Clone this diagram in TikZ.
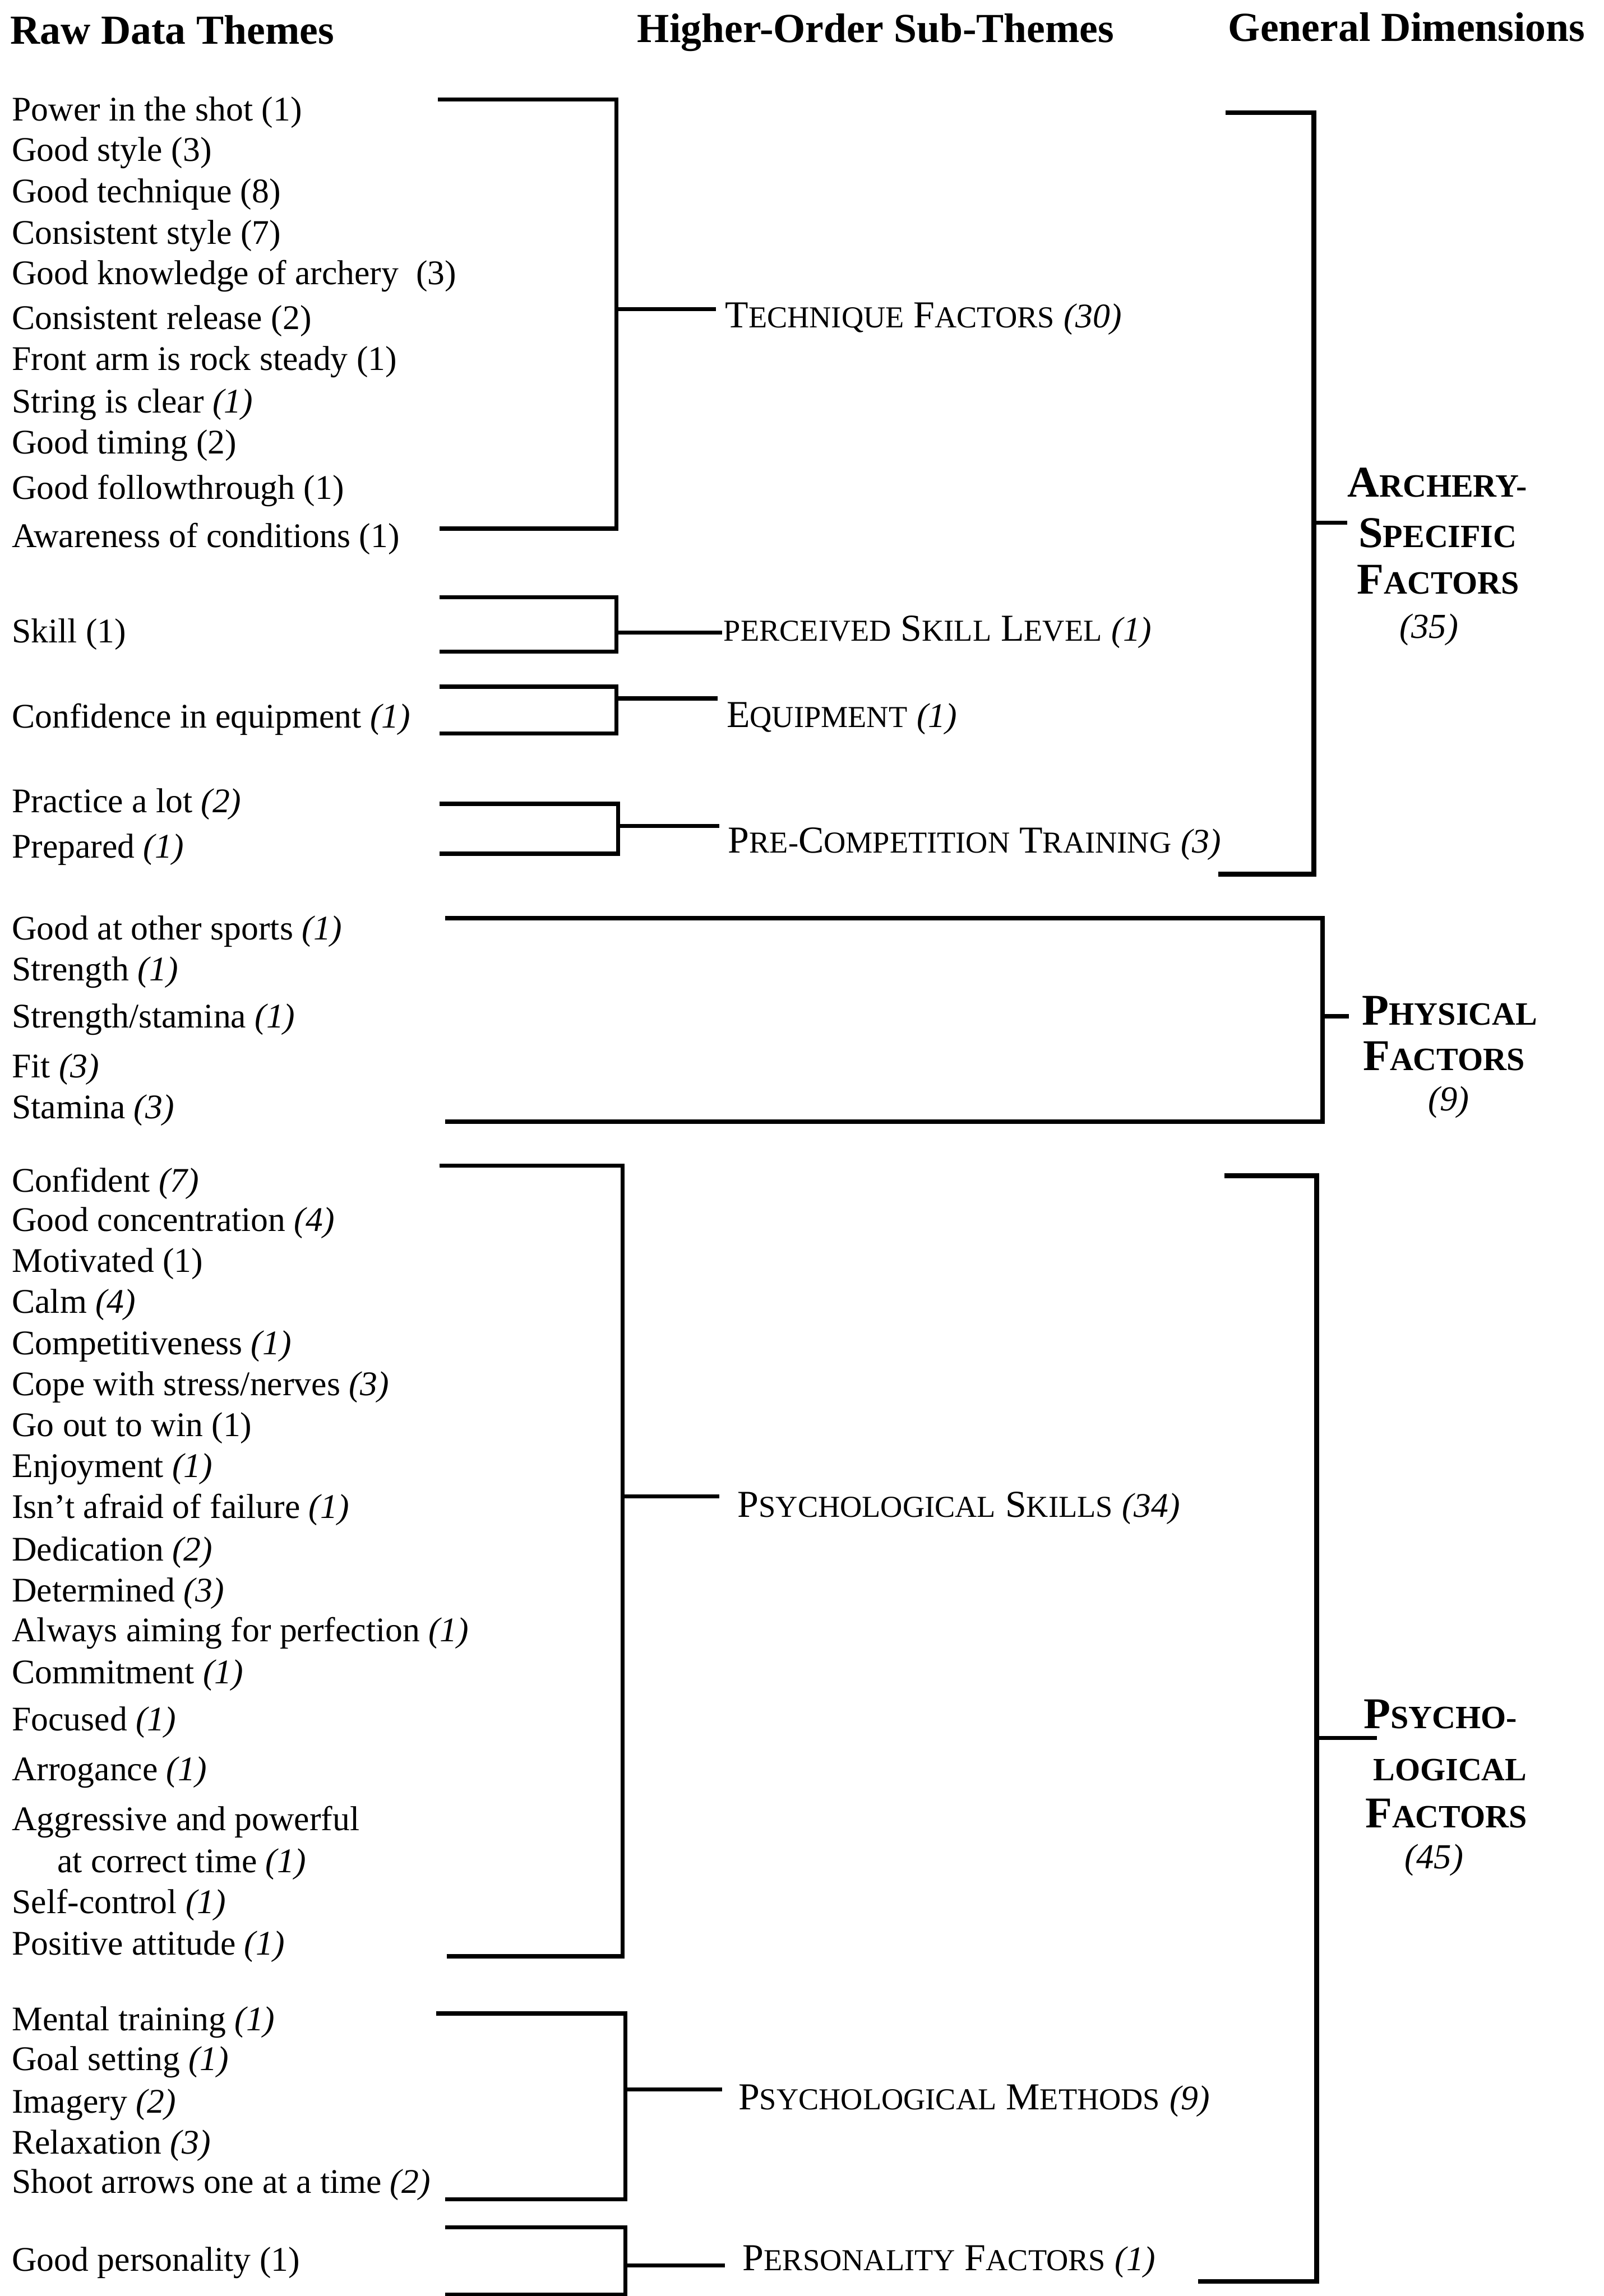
\documentclass[tikz,border=0pt]{standalone}
\usepackage{fontspec}
\setmainfont{Liberation Serif}
\newcommand\scA[1]{{\fontsize{20.8}{24}\selectfont #1}}
\newcommand\scB[1]{{\fontsize{22.2}{24}\selectfont #1}}
\newcommand\nA[1]{{\fontsize{23.6}{28}\selectfont\itshape #1}}
\newcommand\ri[1]{\textit{#1}}
\begin{document}
\begin{tikzpicture}[x=1pt,y=-1pt,
  raw/.style={anchor=west,inner sep=0pt,text height=16.5pt,text depth=4.7pt,font=\fontsize{23.6}{28}\selectfont},
  head/.style={anchor=base west,inner sep=0pt,font=\bfseries\fontsize{28.2}{32}\selectfont},
  sub/.style={anchor=west,inner sep=0pt,text height=17.2pt,text depth=0pt,font=\fontsize{26}{30}\selectfont},
  dim/.style={anchor=west,inner sep=0pt,text height=20pt,text depth=0pt,font=\bfseries\fontsize{30}{33}\selectfont},
  dimnum/.style={anchor=west,inner sep=0pt,text height=16.8pt,text depth=4.8pt,font=\itshape\fontsize{24}{28}\selectfont},
  brk/.style={line width=2.8pt},
  bigbrk/.style={line width=3.3pt}]
\fill[white] (0,0) rectangle (1095,1568);
\useasboundingbox (0,0) rectangle (1095,1568);

% headers
\node[head] (h1) at (7,30) {Raw Data Themes};
\node[head] (h2) at (435,29) {Higher-Order Sub-Themes};
\node[head] (h3) at (838.5,28) {General Dimensions};

% raw data themes
\node[raw] (r1) at (8,76.5) {Power in the shot (1)};
\node[raw] (r2) at (8,104) {Good style (3)};
\node[raw] (r3) at (8,132.5) {Good technique (8)};
\node[raw] (r4) at (8,161) {Consistent style (7)};
\node[raw] (r5) at (8,188.5) {Good knowledge of archery~~(3)};
\node[raw] (r6) at (8,219) {Consistent release (2)};
\node[raw] (r7) at (8,247) {Front arm is rock steady (1)};
\node[raw] (r8) at (8,276) {String is clear \ri{(1)}};
\node[raw] (r9) at (8,304) {Good timing (2)};
\node[raw] (r10) at (8,335) {Good followthrough (1)};
\node[raw] (r11) at (8,368) {Awareness of conditions (1)};
\node[raw] (r12) at (8,433) {Skill (1)};
\node[raw] (r13) at (8,491) {Confidence in equipment \ri{(1)}};
\node[raw] (r14) at (8,549) {Practice a lot \ri{(2)}};
\node[raw] (r15) at (8,580) {Prepared \ri{(1)}};
\node[raw] (r16) at (8,636) {Good at other sports \ri{(1)}};
\node[raw] (r17) at (8,664) {Strength \ri{(1)}};
\node[raw] (r18) at (8,696) {Strength/stamina \ri{(1)}};
\node[raw] (r19) at (8,730) {Fit \ri{(3)}};
\node[raw] (r20) at (8,758) {Stamina \ri{(3)}};
\node[raw] (r21) at (8,808) {Confident \ri{(7)}};
\node[raw] (r22) at (8,835) {Good concentration \ri{(4)}};
\node[raw] (r23) at (8,863) {Motivated (1)};
\node[raw] (r24) at (8,891) {Calm \ri{(4)}};
\node[raw] (r25) at (8,919) {Competitiveness \ri{(1)}};
\node[raw] (r26) at (8,947) {Cope with stress/nerves \ri{(3)}};
\node[raw] (r27) at (8,975) {Go out to win (1)};
\node[raw] (r28) at (8,1003) {Enjoyment \ri{(1)}};
\node[raw] (r29) at (8,1031) {Isn’t afraid of failure \ri{(1)}};
\node[raw] (r30) at (8,1060) {Dedication \ri{(2)}};
\node[raw] (r31) at (8,1088) {Determined \ri{(3)}};
\node[raw] (r32) at (8,1115) {Always aiming for perfection \ri{(1)}};
\node[raw] (r33) at (8,1144) {Commitment \ri{(1)}};
\node[raw] (r34) at (8,1176) {Focused \ri{(1)}};
\node[raw] (r35) at (8,1210) {Arrogance \ri{(1)}};
\node[raw] (r36) at (8,1244) {Aggressive and powerful};
\node[raw] (r37) at (39,1273) {at correct time \ri{(1)}};
\node[raw] (r38) at (8,1301) {Self-control \ri{(1)}};
\node[raw] (r39) at (8,1329) {Positive attitude \ri{(1)}};
\node[raw] (r40) at (8,1381) {Mental training \ri{(1)}};
\node[raw] (r41) at (8,1408) {Goal setting \ri{(1)}};
\node[raw] (r42) at (8,1437) {Imagery \ri{(2)}};
\node[raw] (r43) at (8,1465) {Relaxation \ri{(3)}};
\node[raw] (r44) at (8,1492) {Shoot arrows one at a time \ri{(2)}};
\node[raw] (r45) at (8,1545) {Good personality (1)};

% higher-order sub-themes
\node[sub] (s1) at (495,215) {T\scA{ECHNIQUE} F\scA{ACTORS} \nA{(30)}};
\node[sub] (s2) at (494,429) {\scA{PERCEIVED} S\scA{KILL} L\scA{EVEL} \nA{(1)}};
\node[sub] (s3) at (496,488) {E\scA{QUIPMENT} \nA{(1)}};
\node[sub] (s4) at (497,574) {P\scA{RE-}C\scA{OMPETITION} T\scA{RAINING} \nA{(3)}};
\node[sub] (s5) at (503.5,1027.5) {P\scA{SYCHOLOGICAL} S\scA{KILLS} \nA{(34)}};
\node[sub] (s6) at (504,1432) {P\scA{SYCHOLOGICAL} M\scA{ETHODS} \nA{(9)}};
\node[sub] (s7) at (507,1542) {P\scA{ERSONALITY} F\scA{ACTORS} \nA{(1)}};

% general dimensions
\node[dim] (d1a) at (920,329.5) {A\scB{RCHERY-}};
\node[dim] (d1b) at (927.5,364) {S\scB{PECIFIC}};
\node[dim] (d1c) at (926.5,395.5) {F\scB{ACTORS}};
\node[dimnum] (d1d) at (955.5,430) {(35)};
\node[dim] (d2a) at (930,690) {P\scB{HYSICAL}};
\node[dim] (d2b) at (930.5,721) {F\scB{ACTORS}};
\node[dimnum] (d2c) at (975,752.5) {(9)};
\node[dim] (d3a) at (931,1170.5) {P\scB{SYCHO-}};
\node[dim] (d3b) at (937.5,1206) {\scB{LOGICAL}};
\node[dim] (d3c) at (932,1238) {F\scB{ACTORS}};
\node[dimnum] (d3d) at (959,1270) {(45)};

% brackets: technique
\coordinate (t1) at (299,68); \coordinate (t2) at (421,68);
\coordinate (t3) at (421,361); \coordinate (t4) at (300,361);
\coordinate (t5) at (421,211); \coordinate (t6) at (489,211);
\draw[brk] (t1) -- (t2) -- (t3) -- (t4);
\draw[brk] (t5) -- (t6);
% skill
\coordinate (k1) at (300,408); \coordinate (k2) at (421,408);
\coordinate (k3) at (421,445); \coordinate (k4) at (300,445);
\coordinate (k5) at (421,432); \coordinate (k6) at (493,432);
\draw[brk] (k1) -- (k2) -- (k3) -- (k4);
\draw[brk] (k5) -- (k6);
% equipment
\coordinate (e1) at (300,469); \coordinate (e2) at (421,469);
\coordinate (e3) at (421,501); \coordinate (e4) at (300,501);
\coordinate (e5) at (421,477); \coordinate (e6) at (490,477);
\draw[brk] (e1) -- (e2) -- (e3) -- (e4);
\draw[brk] (e5) -- (e6);
% pre-competition
\coordinate (p1) at (300,549); \coordinate (p2) at (422,549);
\coordinate (p3) at (422,583); \coordinate (p4) at (300,583);
\coordinate (p5) at (422,564); \coordinate (p6) at (491,564);
\draw[brk] (p1) -- (p2) -- (p3) -- (p4);
\draw[brk] (p5) -- (p6);
% physical
\coordinate (f1) at (304,627); \coordinate (f2) at (903,627);
\coordinate (f3) at (903,766); \coordinate (f4) at (304,766);
\coordinate (f5) at (903,694); \coordinate (f6) at (921,694);
\draw[brk] (f1) -- (f2) -- (f3) -- (f4);
\draw[brk] (f5) -- (f6);
% psychological skills
\coordinate (q1) at (300,796); \coordinate (q2) at (425,796);
\coordinate (q3) at (425,1336); \coordinate (q4) at (305,1336);
\coordinate (q5) at (425,1022); \coordinate (q6) at (491,1022);
\draw[brk] (q1) -- (q2) -- (q3) -- (q4);
\draw[brk] (q5) -- (q6);
% psychological methods
\coordinate (m1) at (298,1375); \coordinate (m2) at (427,1375);
\coordinate (m3) at (427,1502); \coordinate (m4) at (304,1502);
\coordinate (m5) at (427,1427); \coordinate (m6) at (493,1427);
\draw[brk] (m1) -- (m2) -- (m3) -- (m4);
\draw[brk] (m5) -- (m6);
% personality
\coordinate (n1) at (304,1521); \coordinate (n2) at (427,1521);
\coordinate (n3) at (427,1567); \coordinate (n4) at (304,1567);
\coordinate (n5) at (427,1547); \coordinate (n6) at (495,1547);
\draw[brk] (n1) -- (n2) -- (n3) -- (n4);
\draw[brk] (n5) -- (n6);
% archery-specific
\coordinate (a1) at (837,77); \coordinate (a2) at (897,77);
\coordinate (a3) at (897,597); \coordinate (a4) at (832,597);
\coordinate (a5) at (897,357); \coordinate (a6) at (920,357);
\draw[bigbrk] (a1) -- (a2) -- (a3) -- (a4);
\draw[brk] (a5) -- (a6);
% psychological factors
\coordinate (g1) at (836,803); \coordinate (g2) at (899,803);
\coordinate (g3) at (899,1558); \coordinate (g4) at (818,1558);
\coordinate (g5) at (899,1187); \coordinate (g6) at (940,1187);
\draw[bigbrk] (g1) -- (g2) -- (g3) -- (g4);
\draw[brk] (g5) -- (g6);
\end{tikzpicture}
\end{document}
